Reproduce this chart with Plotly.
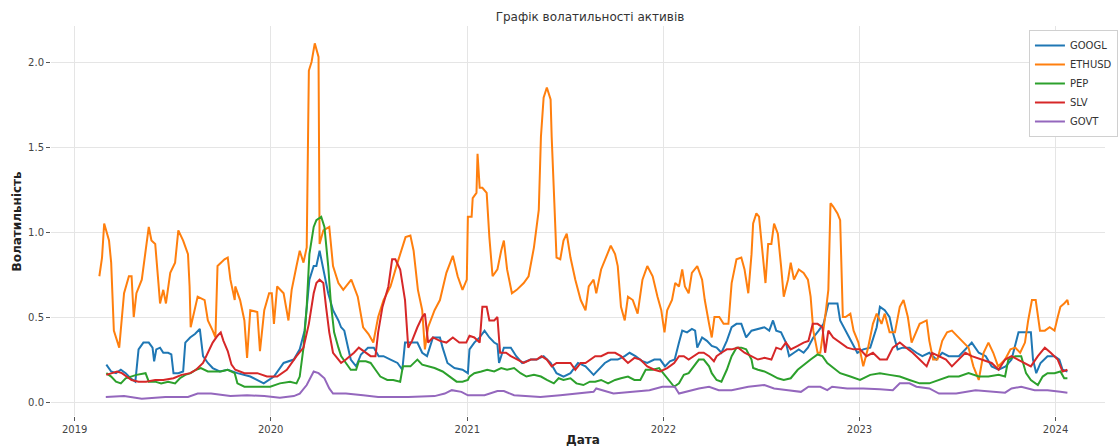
import plotly.graph_objects as go

# ---------------- data ----------------
eth_dates = ["2019-02-16","2019-02-21","2019-02-25","2019-03-06","2019-03-10","2019-03-15","2019-03-25","2019-04-03","2019-04-12","2019-04-17","2019-04-21","2019-04-26","2019-05-06","2019-05-15","2019-05-19","2019-05-24","2019-05-31","2019-06-06","2019-06-09","2019-06-15","2019-06-20","2019-06-28","2019-07-07","2019-07-13","2019-07-22","2019-07-31","2019-08-03","2019-08-05","2019-08-13","2019-08-18","2019-08-31","2019-09-06","2019-09-15","2019-09-20","2019-09-24","2019-10-07","2019-10-13","2019-10-18","2019-10-26","2019-10-27","2019-11-05","2019-11-13","2019-11-18","2019-11-24","2019-12-07","2019-12-12","2019-12-20","2019-12-29",
             "2020-01-03","2020-01-07","2020-01-13","2020-01-25","2020-02-03","2020-02-09","2020-02-18","2020-02-24","2020-03-02","2020-03-08","2020-03-12","2020-03-17","2020-03-23","2020-03-30","2020-04-01","2020-04-08","2020-04-19","2020-04-26","2020-05-06","2020-05-15","2020-05-30","2020-06-11","2020-06-21","2020-07-01","2020-07-10","2020-07-19","2020-07-29","2020-08-11","2020-08-24","2020-09-08","2020-09-17","2020-09-23","2020-10-01","2020-10-09","2020-10-14","2020-10-20","2020-11-01","2020-11-11","2020-11-23","2020-12-05","2020-12-14","2020-12-23","2020-12-31",
             "2021-01-02","2021-01-09","2021-01-11","2021-01-18","2021-01-20","2021-01-24","2021-01-29","2021-02-06","2021-02-11","2021-02-17","2021-02-26","2021-03-05","2021-03-10","2021-03-16","2021-03-25","2021-04-03","2021-04-16","2021-04-25","2021-05-05","2021-05-14","2021-05-18","2021-05-23","2021-05-29","2021-06-05","2021-06-07","2021-06-12","2021-06-16","2021-06-23","2021-06-29","2021-07-05","2021-07-12","2021-07-21","2021-07-31","2021-08-09","2021-08-15","2021-08-24","2021-08-29","2021-09-07","2021-09-16","2021-09-25","2021-10-03","2021-10-08","2021-10-14","2021-10-21","2021-10-27","2021-11-05","2021-11-14","2021-11-23","2021-12-02","2021-12-12","2021-12-21","2021-12-28",
             "2022-01-03","2022-01-08","2022-01-17","2022-01-23","2022-01-30","2022-02-05","2022-02-10","2022-02-17","2022-02-23","2022-03-05","2022-03-14","2022-03-19","2022-03-27","2022-04-01","2022-04-06","2022-04-15","2022-04-23","2022-05-02","2022-05-08","2022-05-17","2022-05-26","2022-06-01","2022-06-08","2022-06-14","2022-06-17","2022-06-23","2022-06-28","2022-07-06","2022-07-10","2022-07-15","2022-07-21","2022-07-26","2022-08-02","2022-08-08","2022-08-13","2022-08-21","2022-08-26","2022-09-01","2022-09-10","2022-09-19","2022-09-27","2022-10-02","2022-10-07","2022-10-15","2022-10-20","2022-10-29","2022-11-04","2022-11-08","2022-11-13","2022-11-21","2022-11-26","2022-12-01","2022-12-06","2022-12-15","2022-12-21","2022-12-30",
             "2023-01-08","2023-01-17","2023-01-26","2023-02-02","2023-02-11","2023-02-17","2023-02-26","2023-03-08","2023-03-17","2023-03-24","2023-04-01","2023-04-08","2023-04-17","2023-04-23","2023-05-06","2023-05-11","2023-05-18","2023-05-26","2023-06-04","2023-06-13","2023-06-22","2023-07-05","2023-07-14","2023-07-23","2023-08-01","2023-08-11","2023-08-20","2023-08-29","2023-09-07","2023-09-16","2023-09-29","2023-10-09","2023-10-18","2023-10-27","2023-11-05","2023-11-11","2023-11-18","2023-11-25","2023-12-03","2023-12-12","2023-12-21","2023-12-30",
             "2024-01-05","2024-01-10","2024-01-17","2024-01-23","2024-01-25"]
eth_vol = [0.74,0.85,1.05,0.95,0.82,0.42,0.32,0.64,0.74,0.74,0.50,0.64,0.72,0.95,1.03,0.95,0.93,0.70,0.58,0.66,0.58,0.76,0.82,1.01,0.95,0.87,0.68,0.44,0.56,0.62,0.60,0.48,0.42,0.38,0.80,0.84,0.85,0.72,0.60,0.68,0.60,0.48,0.26,0.54,0.53,0.30,0.54,0.64,
           0.64,0.46,0.68,0.64,0.48,0.66,0.80,0.89,0.82,0.91,1.95,2.00,2.11,2.03,0.93,1.01,1.03,0.80,0.70,0.66,0.72,0.62,0.44,0.40,0.35,0.50,0.60,0.68,0.82,0.97,0.98,0.89,0.66,0.54,0.31,0.44,0.54,0.60,0.76,0.86,0.74,0.66,0.72,
           1.09,1.09,1.20,1.23,1.46,1.26,1.26,1.23,0.97,0.74,0.78,0.89,0.95,0.78,0.64,0.66,0.70,0.74,0.91,1.13,1.56,1.79,1.85,1.78,1.56,1.17,0.85,0.84,0.95,0.99,0.85,0.72,0.60,0.54,0.68,0.72,0.64,0.78,0.85,0.92,0.87,0.80,0.56,0.48,0.62,0.60,0.52,0.72,0.80,0.74,0.62,0.54,
           0.41,0.54,0.60,0.70,0.68,0.78,0.68,0.64,0.76,0.80,0.72,0.60,0.46,0.38,0.50,0.50,0.46,0.46,0.70,0.84,0.85,0.78,0.64,0.87,1.05,1.11,1.09,0.84,0.70,0.93,0.93,1.05,0.99,0.80,0.62,0.72,0.82,0.72,0.78,0.76,0.72,0.62,0.42,0.29,0.29,0.50,0.66,1.17,1.15,1.11,1.07,0.50,0.50,0.52,0.42,0.35,
           0.21,0.32,0.46,0.52,0.46,0.52,0.41,0.41,0.56,0.60,0.50,0.35,0.41,0.46,0.48,0.36,0.25,0.25,0.36,0.41,0.42,0.38,0.35,0.32,0.21,0.13,0.29,0.35,0.29,0.21,0.25,0.31,0.32,0.29,0.35,0.48,0.60,0.60,0.42,0.42,0.44,0.42,
           0.50,0.56,0.58,0.60,0.57]

googl_dates = ["2019-03-01","2019-03-10","2019-03-19","2019-03-28","2019-04-06","2019-04-15","2019-04-24","2019-04-30","2019-05-09","2019-05-19","2019-05-26","2019-05-29","2019-06-02","2019-06-09","2019-06-15","2019-06-24","2019-06-30","2019-07-04","2019-07-13","2019-07-22","2019-07-26","2019-08-04","2019-08-13","2019-08-22","2019-08-28","2019-09-06","2019-09-15","2019-09-28","2019-10-13","2019-10-31","2019-11-24","2019-12-19",
               "2020-01-07","2020-01-25","2020-02-13","2020-02-24","2020-03-04","2020-03-13","2020-03-21","2020-03-26","2020-04-01","2020-04-08","2020-04-17","2020-04-26","2020-05-06","2020-05-11","2020-05-17","2020-05-24","2020-05-29","2020-06-08","2020-06-17","2020-06-30","2020-07-11","2020-07-20","2020-07-29","2020-08-11","2020-08-24","2020-09-02","2020-09-07","2020-09-17","2020-09-30","2020-10-09","2020-10-18","2020-10-29","2020-11-11","2020-11-16","2020-11-25","2020-12-08","2020-12-23",
               "2021-01-02","2021-01-05","2021-01-14","2021-01-24","2021-02-02","2021-02-11","2021-02-20","2021-02-26","2021-03-01","2021-03-10","2021-03-23","2021-04-02","2021-04-13","2021-04-29","2021-05-10","2021-05-23","2021-06-05","2021-06-16","2021-06-29","2021-07-12","2021-07-26","2021-08-09","2021-08-24","2021-09-02","2021-09-14","2021-09-25","2021-10-08","2021-10-21","2021-10-30","2021-11-10","2021-11-23","2021-12-02","2021-12-15","2021-12-26",
               "2022-01-04","2022-01-13","2022-01-22","2022-01-30","2022-02-05","2022-02-14","2022-02-23","2022-03-01","2022-03-05","2022-03-14","2022-03-23","2022-04-01","2022-04-10","2022-04-19","2022-04-29","2022-05-08","2022-05-17","2022-05-26","2022-06-04","2022-06-14","2022-06-26","2022-07-08","2022-07-17","2022-07-24","2022-07-30","2022-08-08","2022-08-17","2022-08-23","2022-09-01","2022-09-10","2022-09-19","2022-09-27","2022-10-02","2022-10-07","2022-10-17","2022-10-26","2022-11-04","2022-11-13","2022-11-21","2022-11-26","2022-12-06","2022-12-15","2022-12-28",
               "2023-01-08","2023-01-21","2023-02-02","2023-02-08","2023-02-17","2023-02-26","2023-03-04","2023-03-13","2023-03-22","2023-04-04","2023-04-17","2023-04-28","2023-05-11","2023-05-24","2023-06-04","2023-06-16","2023-07-05","2023-07-17","2023-07-29","2023-08-11","2023-08-24","2023-09-04","2023-09-17","2023-09-30","2023-10-11","2023-10-24","2023-11-05","2023-11-16","2023-11-20","2023-11-26","2023-12-04","2023-12-17","2023-12-30",
               "2024-01-08","2024-01-14","2024-01-23"]
googl_vol = [0.22,0.18,0.17,0.19,0.17,0.14,0.12,0.31,0.35,0.35,0.32,0.24,0.31,0.32,0.29,0.29,0.28,0.17,0.17,0.18,0.35,0.38,0.40,0.43,0.27,0.23,0.20,0.18,0.19,0.17,0.15,0.11,
             0.15,0.23,0.25,0.31,0.42,0.72,0.80,0.80,0.89,0.78,0.64,0.54,0.48,0.44,0.42,0.32,0.25,0.21,0.28,0.32,0.32,0.27,0.27,0.25,0.23,0.19,0.35,0.35,0.35,0.29,0.27,0.38,0.38,0.32,0.23,0.20,0.19,
             0.17,0.31,0.35,0.38,0.42,0.38,0.35,0.34,0.23,0.32,0.32,0.27,0.23,0.25,0.25,0.27,0.23,0.17,0.15,0.17,0.23,0.21,0.16,0.19,0.23,0.25,0.25,0.27,0.29,0.27,0.24,0.23,0.25,0.25,
             0.21,0.24,0.25,0.35,0.42,0.41,0.43,0.42,0.32,0.38,0.36,0.33,0.32,0.29,0.36,0.44,0.46,0.46,0.38,0.42,0.43,0.44,0.42,0.48,0.42,0.41,0.35,0.27,0.29,0.31,0.29,0.32,0.35,0.38,0.42,0.46,0.58,0.58,0.58,0.48,0.42,0.36,0.29,
             0.31,0.32,0.44,0.56,0.54,0.50,0.41,0.31,0.32,0.32,0.29,0.27,0.29,0.25,0.29,0.27,0.27,0.31,0.35,0.29,0.27,0.21,0.19,0.21,0.25,0.41,0.41,0.41,0.25,0.17,0.23,0.27,0.27,
             0.25,0.19,0.18]

pep_dates = ["2019-03-01","2019-03-10","2019-03-19","2019-03-28","2019-04-06","2019-04-15","2019-04-26","2019-05-13","2019-05-19","2019-05-31","2019-06-11","2019-06-24","2019-07-07","2019-07-16","2019-07-26","2019-08-05","2019-08-15","2019-08-24","2019-09-06","2019-09-19","2019-09-30","2019-10-13","2019-10-26","2019-10-31","2019-11-13","2019-12-07","2019-12-31",
             "2020-01-18","2020-02-06","2020-02-18","2020-02-24","2020-03-02","2020-03-08","2020-03-13","2020-03-21","2020-03-26","2020-04-04","2020-04-10","2020-04-17","2020-04-22","2020-04-28","2020-05-06","2020-05-11","2020-05-20","2020-05-29","2020-06-08","2020-06-13","2020-06-26","2020-07-05","2020-07-14","2020-07-23","2020-08-05","2020-08-16","2020-08-29","2020-09-03","2020-09-17","2020-09-30","2020-10-09","2020-10-20","2020-11-01","2020-11-16","2020-11-29","2020-12-12","2020-12-23",
             "2021-01-02","2021-01-05","2021-01-14","2021-01-27","2021-02-07","2021-02-20","2021-03-05","2021-03-16","2021-03-29","2021-04-10","2021-04-21","2021-05-05","2021-05-18","2021-05-29","2021-06-11","2021-06-20","2021-06-29","2021-07-12","2021-07-23","2021-08-05","2021-08-17","2021-08-27","2021-09-07","2021-09-20","2021-10-03","2021-10-14","2021-10-27","2021-11-08","2021-11-19","2021-11-29","2021-12-12","2021-12-24",
             "2022-01-03","2022-01-12","2022-01-21","2022-01-30","2022-02-08","2022-02-17","2022-02-27","2022-03-08","2022-03-17","2022-03-27","2022-04-01","2022-04-10","2022-04-19","2022-04-29","2022-05-08","2022-05-17","2022-05-26","2022-06-04","2022-06-14","2022-06-17","2022-06-26","2022-07-08","2022-07-21","2022-08-02","2022-08-13","2022-08-26","2022-09-08","2022-09-19","2022-10-02","2022-10-15","2022-10-24","2022-11-02","2022-11-13","2022-11-26","2022-12-15",
             "2023-01-02","2023-01-21","2023-02-08","2023-02-26","2023-03-17","2023-04-04","2023-04-23","2023-05-11","2023-05-29","2023-06-16","2023-07-05","2023-07-23","2023-08-11","2023-08-29","2023-09-17","2023-09-29","2023-10-05","2023-10-18","2023-10-29","2023-11-07","2023-11-16","2023-11-29","2023-12-08","2023-12-17","2023-12-30",
             "2024-01-10","2024-01-17","2024-01-23"]
pep_vol = [0.17,0.15,0.12,0.11,0.14,0.15,0.16,0.17,0.12,0.12,0.11,0.12,0.11,0.14,0.16,0.17,0.19,0.20,0.18,0.18,0.18,0.19,0.17,0.11,0.09,0.09,0.09,
           0.11,0.12,0.11,0.15,0.32,0.56,0.87,1.03,1.07,1.09,1.03,0.80,0.58,0.41,0.32,0.27,0.23,0.19,0.19,0.24,0.24,0.23,0.19,0.15,0.13,0.13,0.12,0.21,0.21,0.25,0.22,0.21,0.20,0.18,0.15,0.12,0.12,
           0.13,0.15,0.17,0.18,0.19,0.18,0.20,0.19,0.20,0.17,0.15,0.16,0.15,0.13,0.11,0.14,0.13,0.14,0.11,0.10,0.12,0.12,0.13,0.11,0.13,0.14,0.15,0.13,0.13,0.19,0.19,0.20,
           0.16,0.12,0.09,0.11,0.16,0.17,0.21,0.25,0.25,0.21,0.17,0.13,0.12,0.19,0.27,0.32,0.32,0.31,0.25,0.20,0.19,0.18,0.16,0.14,0.13,0.14,0.19,0.22,0.25,0.28,0.27,0.23,0.20,0.17,0.15,
           0.13,0.16,0.17,0.16,0.15,0.13,0.11,0.11,0.13,0.15,0.15,0.17,0.15,0.15,0.16,0.15,0.25,0.27,0.27,0.17,0.13,0.10,0.15,0.17,0.17,
           0.18,0.14,0.14]

slv_dates = ["2019-03-01","2019-03-10","2019-03-21","2019-03-30","2019-04-08","2019-04-17","2019-04-30","2019-05-14","2019-05-31","2019-06-15","2019-07-04","2019-07-19","2019-08-04","2019-08-15","2019-08-28","2019-09-06","2019-09-15","2019-09-24","2019-09-30","2019-10-05","2019-10-13","2019-10-20","2019-10-27","2019-11-13","2019-12-07","2019-12-25",
             "2020-01-13","2020-01-31","2020-02-18","2020-03-02","2020-03-12","2020-03-21","2020-03-26","2020-04-01","2020-04-08","2020-04-13","2020-04-19","2020-04-26","2020-05-06","2020-05-11","2020-05-20","2020-06-04","2020-06-13","2020-06-26","2020-07-05","2020-07-14","2020-07-19","2020-07-27","2020-08-01","2020-08-07","2020-08-14","2020-08-20","2020-08-29","2020-09-07","2020-09-13","2020-09-20","2020-09-30","2020-10-09","2020-10-14","2020-10-20","2020-10-29","2020-11-11","2020-11-23","2020-12-05","2020-12-17","2020-12-30",
             "2021-01-05","2021-01-14","2021-01-24","2021-01-29","2021-02-06","2021-02-11","2021-02-20","2021-02-26","2021-03-03","2021-03-14","2021-03-23","2021-04-03","2021-04-16","2021-04-29","2021-05-10","2021-05-19","2021-05-29","2021-06-07","2021-06-16","2021-06-29","2021-07-12","2021-07-21","2021-07-31","2021-08-09","2021-08-18","2021-08-27","2021-09-07","2021-09-20","2021-10-03","2021-10-14","2021-10-27","2021-11-08","2021-11-19","2021-12-02","2021-12-15","2021-12-26",
             "2022-01-08","2022-01-21","2022-01-30","2022-02-08","2022-02-17","2022-02-27","2022-03-08","2022-03-17","2022-03-27","2022-04-05","2022-04-10","2022-04-19","2022-04-29","2022-05-08","2022-05-20","2022-06-01","2022-06-14","2022-06-26","2022-07-08","2022-07-21","2022-07-30","2022-08-08","2022-08-17","2022-08-26","2022-09-08","2022-09-19","2022-09-28","2022-10-06","2022-10-15","2022-10-24","2022-10-29","2022-11-04","2022-11-13","2022-11-22","2022-12-09","2022-12-21",
             "2023-01-02","2023-01-14","2023-01-26","2023-02-08","2023-02-21","2023-03-04","2023-03-17","2023-03-29","2023-04-10","2023-04-23","2023-05-06","2023-05-16","2023-05-29","2023-06-11","2023-06-22","2023-07-05","2023-07-17","2023-07-29","2023-08-17","2023-09-04","2023-09-17","2023-09-29","2023-10-11","2023-10-24","2023-11-05","2023-11-16","2023-11-29","2023-12-12","2023-12-23",
             "2024-01-05","2024-01-14","2024-01-23"]
slv_vol = [0.16,0.17,0.18,0.17,0.15,0.13,0.12,0.12,0.13,0.13,0.14,0.16,0.17,0.19,0.23,0.29,0.35,0.39,0.41,0.36,0.30,0.22,0.19,0.17,0.17,0.15,
           0.15,0.19,0.27,0.32,0.46,0.64,0.70,0.72,0.70,0.56,0.41,0.29,0.25,0.23,0.25,0.29,0.32,0.29,0.27,0.27,0.41,0.56,0.62,0.68,0.84,0.84,0.78,0.60,0.32,0.36,0.44,0.50,0.52,0.35,0.38,0.36,0.35,0.38,0.35,0.35,
           0.39,0.38,0.35,0.56,0.56,0.48,0.48,0.50,0.29,0.29,0.27,0.25,0.23,0.25,0.25,0.27,0.25,0.21,0.23,0.23,0.23,0.19,0.23,0.23,0.25,0.27,0.27,0.29,0.29,0.27,0.23,0.26,0.25,0.21,0.19,0.18,
           0.20,0.23,0.27,0.27,0.25,0.27,0.29,0.29,0.27,0.24,0.27,0.29,0.31,0.31,0.32,0.29,0.27,0.25,0.26,0.25,0.32,0.31,0.35,0.31,0.33,0.35,0.36,0.46,0.46,0.44,0.29,0.42,0.38,0.36,0.32,0.31,
           0.31,0.27,0.29,0.25,0.25,0.32,0.35,0.32,0.29,0.25,0.21,0.29,0.27,0.25,0.21,0.25,0.29,0.27,0.25,0.23,0.19,0.25,0.27,0.25,0.23,0.21,0.27,0.32,0.29,
           0.25,0.18,0.19]

govt_dates = ["2019-02-28","2019-04-03","2019-05-06","2019-06-19","2019-07-31","2019-08-18","2019-09-12","2019-10-18","2019-11-18","2019-12-20",
              "2020-01-18","2020-02-13","2020-02-24","2020-03-08","2020-03-21","2020-03-30","2020-04-10","2020-04-19","2020-04-26","2020-05-20","2020-06-21","2020-07-19","2020-08-20","2020-09-13","2020-11-01","2020-11-20","2020-12-03","2020-12-21",
              "2021-01-02","2021-02-02","2021-02-26","2021-03-10","2021-03-29","2021-05-17","2021-06-23","2021-07-31","2021-08-24","2021-08-29","2021-09-30","2021-11-05","2021-12-06","2021-12-30",
              "2022-01-22","2022-01-30","2022-02-10","2022-03-08","2022-03-27","2022-04-14","2022-05-08","2022-06-08","2022-07-08","2022-07-26","2022-08-21","2022-09-14","2022-09-28","2022-10-20","2022-11-02","2022-11-11","2022-12-09",
              "2023-01-08","2023-02-08","2023-03-04","2023-03-17","2023-04-04","2023-04-17","2023-05-11","2023-05-29","2023-06-30","2023-08-05","2023-09-11","2023-09-29","2023-10-11","2023-10-29","2023-11-23","2023-12-17",
              "2024-01-10","2024-01-23"]
govt_vol = [0.030,0.035,0.020,0.030,0.030,0.050,0.050,0.035,0.040,0.035,
            0.025,0.035,0.050,0.100,0.180,0.170,0.140,0.080,0.050,0.050,0.040,0.030,0.030,0.030,0.035,0.050,0.070,0.060,
            0.040,0.040,0.065,0.065,0.040,0.030,0.040,0.050,0.060,0.080,0.050,0.060,0.070,0.090,
            0.090,0.050,0.060,0.080,0.090,0.070,0.070,0.090,0.100,0.080,0.070,0.060,0.090,0.090,0.070,0.090,0.080,
            0.080,0.075,0.070,0.110,0.110,0.090,0.080,0.050,0.050,0.070,0.060,0.055,0.080,0.090,0.070,0.070,
            0.060,0.055]

series = [
    ("GOOGL", googl_dates, googl_vol, "#1f77b4"),
    ("ETHUSD", eth_dates, eth_vol, "#ff7f0e"),
    ("PEP", pep_dates, pep_vol, "#2ca02c"),
    ("SLV", slv_dates, slv_vol, "#d62728"),
    ("GOVT", govt_dates, govt_vol, "#9467bd"),
]

FONT = "DejaVu Sans"

fig = go.Figure()
for name, d, v, c in series:
    fig.add_trace(go.Scatter(x=d, y=v, mode="lines", name=name,
                             line=dict(color=c, width=2)))

W, H = 1118, 447
ML, MR, MT, MB = 51, 0, 26, 31
pw = W - ML - MR
ph = H - MT - MB

fig.update_layout(
    width=W, height=H,
    margin=dict(l=ML, r=MR, t=MT, b=MB),
    paper_bgcolor="white", plot_bgcolor="white",
    font=dict(family=FONT, size=10, color="#444"),
    title=dict(text="Графік волатильності активів", x=590 / W, xref="container",
               y=1 - 17 / H, yref="container", xanchor="center", yanchor="middle",
               font=dict(family=FONT, size=12, color="#333")),
    showlegend=True,
    legend=dict(x=(1041 - ML) / pw, y=(H - MB - 30) / ph,
                xanchor="left", yanchor="top",
                bgcolor="white", bordercolor="#d0d0d0", borderwidth=1,
                font=dict(family=FONT, size=10, color="#333"),
                itemwidth=30, tracegroupgap=0),
    xaxis=dict(type="date", range=["2018-11-18", "2024-04-02"],
               tickformat="%Y", dtick="M12", tick0="2019-01-01",
               showgrid=True, gridcolor="#e5e5e5", gridwidth=1,
               showline=False, zeroline=False,
               ticks="outside", ticklen=4, tickcolor="#555", tickwidth=1,
               tickfont=dict(family=FONT, size=10, color="#444")),
    yaxis=dict(range=[-0.082, 2.212], dtick=0.5, tick0=0, tickformat=".1f",
               showgrid=True, gridcolor="#e5e5e5", gridwidth=1,
               showline=False, zeroline=False,
               ticks="outside", ticklen=4, tickcolor="#555", tickwidth=1,
               tickfont=dict(family=FONT, size=10, color="#444")),
    annotations=[
        dict(text="<b>Дата</b>", x=(590 - ML) / pw, y=(H - MB - 440) / ph,
             xref="paper", yref="paper",
             showarrow=False, xanchor="center", yanchor="middle",
             font=dict(family=FONT, size=12, color="#222")),
        dict(text="<b>Волатильність</b>", x=(17 - ML) / pw, y=(H - MB - 221) / ph,
             xref="paper", yref="paper",
             showarrow=False, textangle=-90, xanchor="center", yanchor="middle",
             font=dict(family=FONT, size=12, color="#222")),
    ],
)

fig.write_html("out.html")
